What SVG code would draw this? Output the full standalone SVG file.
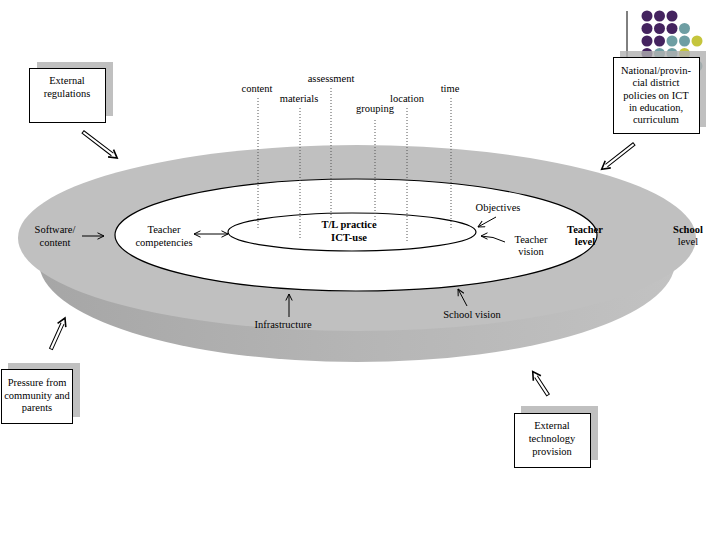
<svg xmlns="http://www.w3.org/2000/svg" width="720" height="540" viewBox="0 0 720 540">
<defs>
<style>
.t{font-family:"Liberation Serif","Times New Roman",serif;font-size:10.5px;fill:#000;text-anchor:middle}
.b{font-weight:bold}
.box{fill:#fff;stroke:#000;stroke-width:1}
.sh{fill:#b0b0b0;fill-opacity:0.8}
.dot{stroke:#555;stroke-width:1;stroke-dasharray:1 2;fill:none}
.thin{stroke:#000;stroke-width:1;fill:none}
.dshaft{fill:#fff;stroke:#000;stroke-width:1}
.dhead{fill:none;stroke:#000;stroke-width:1.6;stroke-linejoin:miter}
.pu{fill:#44235f}.te{fill:#6e9ea3}.ye{fill:#c5c53c}
</style>
<linearGradient id="side" x1="0" y1="0" x2="1" y2="0">
<stop offset="0" stop-color="#a6a6a6"/>
<stop offset="0.5" stop-color="#b5b5b5"/>
<stop offset="1" stop-color="#c2c2c2"/>
</linearGradient>
<marker id="ah" viewBox="0 0 8 8" refX="7.5" refY="4" markerWidth="8" markerHeight="8" markerUnits="userSpaceOnUse" orient="auto-start-reverse">
<path d="M1,0.8 L7.5,4 L1,7.2" fill="none" stroke="#000" stroke-width="1"/>
</marker>
</defs>
<rect width="720" height="540" fill="#fff"/>

<g id="decoration">
<line x1="627" y1="11" x2="627" y2="57" stroke="#000" stroke-width="1"/>
<circle class="pu" cx="647" cy="16" r="5.5"/><circle class="pu" cx="659.5" cy="16" r="5.5"/><circle class="pu" cx="672" cy="16" r="5.5"/>
<circle class="pu" cx="647" cy="28.5" r="5.5"/><circle class="pu" cx="659.5" cy="28.5" r="5.5"/><circle class="pu" cx="672" cy="28.5" r="5.5"/><circle class="te" cx="684.5" cy="28.5" r="5.5"/>
<circle class="pu" cx="647" cy="41" r="5.5"/><circle class="pu" cx="659.5" cy="41" r="5.5"/><circle class="te" cx="672" cy="41" r="5.5"/><circle class="te" cx="684.5" cy="41" r="5.5"/><circle class="ye" cx="697" cy="41" r="5.5"/>
<circle class="pu" cx="647" cy="53.5" r="5.5"/><circle class="te" cx="659.5" cy="53.5" r="5.5"/><circle class="te" cx="672" cy="53.5" r="5.5"/><circle class="ye" cx="684.5" cy="53.5" r="5.5"/>
<circle class="te" cx="697" cy="66" r="5.5"/>
</g>

<g id="disc">
<ellipse cx="357" cy="262" rx="318" ry="100" fill="url(#side)"/>
<ellipse cx="357" cy="238" rx="339" ry="93" fill="#c0c0c0"/>
</g>

<g id="school-level">
<text class="t b" x="688" y="233">School</text>
<text class="t" x="688" y="245">level</text>
</g>

<g id="teacher-level-ring">
<ellipse cx="356" cy="235" rx="241" ry="56" fill="#fff" stroke="#000" stroke-width="1.2"/>
</g>

<g id="tl-practice">
<ellipse cx="352" cy="232" rx="124" ry="19" fill="#fff" stroke="#000" stroke-width="1.2"/>
<text class="t b" x="349" y="228">T/L practice</text>
<text class="t b" x="349" y="241">ICT-use</text>
</g>

<g id="teacher-level">
<text class="t b" x="585" y="233">Teacher</text>
<text class="t b" x="585" y="245">level</text>
</g>

<g id="content"><text class="t" x="257" y="92">content</text></g>
<g id="materials"><text class="t" x="299" y="102">materials</text></g>
<g id="assessment"><text class="t" x="331" y="82">assessment</text></g>
<g id="grouping"><text class="t" x="375" y="112">grouping</text></g>
<g id="location"><text class="t" x="407" y="102">location</text></g>
<g id="time"><text class="t" x="450" y="92">time</text></g>

<g id="software-content">
<text class="t" x="55" y="233">Software/</text>
<text class="t" x="55" y="246">content</text>
</g>
<g id="teacher-competencies">
<text class="t" x="164" y="233">Teacher</text>
<text class="t" x="164" y="246">competencies</text>
</g>
<g id="objectives"><text class="t" x="498" y="211">Objectives</text></g>
<g id="teacher-vision">
<text class="t" x="531" y="243">Teacher</text>
<text class="t" x="531" y="255">vision</text>
</g>
<g id="infrastructure"><text class="t" x="283" y="328">Infrastructure</text></g>
<g id="school-vision"><text class="t" x="472" y="318">School vision</text></g>

<g id="external-regulations">
<rect class="sh" x="37" y="62" width="76" height="54"/>
<rect class="box" x="29.5" y="68.5" width="76" height="54"/>
<text class="t" x="67" y="84">External</text>
<text class="t" x="67" y="97">regulations</text>
</g>

<g id="national-policies">
<rect class="sh" x="620" y="51" width="86" height="76"/>
<rect class="box" x="613.5" y="57.5" width="86" height="76"/>
<text class="t" x="656" y="74">National/provin-</text>
<text class="t" x="656" y="86">cial district</text>
<text class="t" x="656" y="98.5">policies on ICT</text>
<text class="t" x="656" y="110.5">in education,</text>
<text class="t" x="656" y="123">curriculum</text>
</g>

<g id="pressure">
<rect class="sh" x="8" y="363" width="72" height="54"/>
<rect class="box" x="1.5" y="369.5" width="71" height="54"/>
<text class="t" x="37" y="386">Pressure from</text>
<text class="t" x="37" y="398.5">community and</text>
<text class="t" x="37" y="411">parents</text>
</g>

<g id="external-technology">
<rect class="sh" x="521" y="406" width="77" height="54"/>
<rect class="box" x="514.5" y="413.5" width="76" height="54"/>
<text class="t" x="552" y="429">External</text>
<text class="t" x="552" y="442">technology</text>
<text class="t" x="552" y="455">provision</text>
</g>

<g id="connectors">
<line class="dot" x1="258" y1="98" x2="258" y2="230"/>
<line class="dot" x1="300" y1="108" x2="300" y2="240"/>
<line class="dot" x1="331" y1="88" x2="331" y2="218"/>
<line class="dot" x1="375" y1="120" x2="375" y2="220"/>
<line class="dot" x1="407" y1="108" x2="407" y2="241"/>
<line class="dot" x1="451" y1="98" x2="451" y2="230"/>

<line class="thin" x1="82" y1="236" x2="104" y2="236" marker-end="url(#ah)"/>
<line class="thin" x1="194" y1="234" x2="228" y2="234" marker-start="url(#ah)" marker-end="url(#ah)"/>
<line class="thin" x1="496" y1="217" x2="478" y2="227" marker-end="url(#ah)"/>
<path class="thin" d="M505,242 Q493,236 481,236" marker-end="url(#ah)"/>
<line class="thin" x1="289" y1="317" x2="289" y2="294" marker-end="url(#ah)"/>
<line class="thin" x1="467" y1="306" x2="458" y2="289" marker-end="url(#ah)"/>

<g transform="translate(83,132) rotate(37.4)">
<path class="dshaft" d="M37,-1.6 H0 V1.6 H37"/>
<path class="dhead" d="M35,-4.5 L43,0 L35,4.5"/>
</g>
<g transform="translate(634,144) rotate(142)">
<path class="dshaft" d="M35,-1.6 H0 V1.6 H35"/>
<path class="dhead" d="M33,-4.5 L41,0 L33,4.5"/>
</g>
<g transform="translate(51,349) rotate(-65.7)">
<path class="dshaft" d="M28,-1.6 H0 V1.6 H28"/>
<path class="dhead" d="M26,-4.5 L34,0 L26,4.5"/>
</g>
<g transform="translate(548,395) rotate(-123)">
<path class="dshaft" d="M22,-1.6 H0 V1.6 H22"/>
<path class="dhead" d="M20,-4.5 L28,0 L20,4.5"/>
</g>
</g>
</svg>
